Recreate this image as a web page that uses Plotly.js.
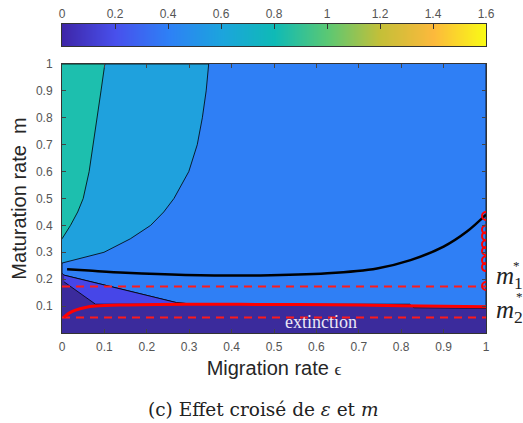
<!DOCTYPE html>
<html>
<head>
<meta charset="utf-8">
<script src="https://cdn.plot.ly/plotly-3.0.1.min.js"></script>
<style>html,body{margin:0;padding:0;background:#fff;}#chart{width:523px;height:423px;}</style>
</head>
<body>
<div id="chart"></div>
<script>
// ---- data ----
const xTicks = [0, 0.1, 0.2, 0.3, 0.4, 0.5, 0.6, 0.7, 0.8, 0.9, 1];
const xTickText = ['0', '0.1', '0.2', '0.3', '0.4', '0.5', '0.6', '0.7', '0.8', '0.9', '1'];
const yTicks = [0.1, 0.2, 0.3, 0.4, 0.5, 0.6, 0.7, 0.8, 0.9, 1];
const yTickText = ['0.1', '0.2', '0.3', '0.4', '0.5', '0.6', '0.7', '0.8', '0.9', '1'];
const cbTicks = [0, 0.2, 0.4, 0.6, 0.8, 1.0, 1.2, 1.4, 1.6];
const cbTickText = ['0', '0.2', '0.4', '0.6', '0.8', '1', '1.2', '1.4', '1.6'];

// region boundaries (epsilon, m)
const mainX = [0, 0, 0.005, 0.27, 0.31, 0.82, 0.83, 1, 1];
const mainY = [1, 0.222, 0.215, 0.113, 0.107, 0.107, 0.094, 0.092, 1];
const lightX = [0, 0.346, 0.340, 0.331, 0.319, 0.299, 0.264, 0.240, 0.209, 0.161, 0.099, 0.050, 0.012, 0];
const lightY = [1, 1, 0.9, 0.8, 0.7, 0.6, 0.5, 0.45, 0.4, 0.35, 0.3, 0.28, 0.265, 0.26];
const tealX = [0, 0.101, 0.092, 0.083, 0.074, 0.064, 0.050, 0.037, 0.020, 0.008, 0];
const tealY = [1, 1, 0.9, 0.8, 0.7, 0.6, 0.5, 0.45, 0.4, 0.37, 0.35];
const violetX = [0.005, 0.27, 0.31, 0.079, 0.005];
const violetY = [0.215, 0.113, 0.107, 0.107, 0.19];

// thick black contour
const contourX = [0.012, 0.063, 0.15, 0.291, 0.468, 0.626, 0.743, 0.822, 0.900, 0.955, 1.0];
const contourY = [0.237, 0.232, 0.224, 0.216, 0.214, 0.222, 0.240, 0.271, 0.321, 0.377, 0.44];

// red solid curve
const redX = [0.004, 0.016, 0.032, 0.055, 0.079, 0.142, 0.291, 0.5, 0.7, 0.85, 1.0];
const redY = [0.058, 0.073, 0.085, 0.095, 0.100, 0.104, 0.107, 0.106, 0.104, 0.100, 0.098];

// thresholds
const m1Star = 0.173;
const m2Star = 0.058;
const dashX = [0, 1];

// red circles at epsilon = 1
const circX = [1, 1, 1, 1, 1, 1, 1, 1];
const circY = [0.435, 0.385, 0.36, 0.33, 0.305, 0.27, 0.245, 0.175];

// ---- styles ----
const parula = [[0, '#3e26a8'], [0.125, '#4850ec'], [0.25, '#2e80f6'], [0.375, '#1ca4dd'],
  [0.5, '#0fbab6'], [0.625, '#5ac874'], [0.75, '#c4bf38'], [0.875, '#fcb93c'], [1, '#f9fb15']];
const cDark = '#3b2b9c', cViolet = '#4646e8', cMain = '#2f7ff5', cLight = '#1fa1dd', cTeal = '#1dbfae';
const tickFont = {family: 'Liberation Sans, Arial, sans-serif', size: 12, color: '#555'};
const serif = 'Liberation Serif, Times New Roman, serif';

function region(x, y, color) {
  return {x: x, y: y, type: 'scatter', mode: 'lines', fill: 'toself', fillcolor: color,
    line: {color: '#000', width: 0.8}, hoverinfo: 'skip', showlegend: false};
}

const traces = [
  region(mainX, mainY, cMain),
  region(lightX, lightY, cLight),
  region(tealX, tealY, cTeal),
  region(violetX, violetY, cViolet),
  {x: dashX, y: [m1Star, m1Star], type: 'scatter', mode: 'lines', line: {color: '#ff1a1a', width: 2, dash: '8px,6px'}, hoverinfo: 'skip', showlegend: false},
  {x: dashX, y: [m2Star, m2Star], type: 'scatter', mode: 'lines', line: {color: '#ff1a1a', width: 2, dash: '8px,6px'}, hoverinfo: 'skip', showlegend: false},
  {x: contourX, y: contourY, type: 'scatter', mode: 'lines', line: {color: '#000', width: 2.5, shape: 'spline'}, hoverinfo: 'skip', showlegend: false},
  {x: redX, y: redY, type: 'scatter', mode: 'lines', line: {color: '#ff0000', width: 3, shape: 'spline'}, hoverinfo: 'skip', showlegend: false},
  {x: circX, y: circY, type: 'scatter', mode: 'markers', marker: {symbol: 'circle-open', size: 8, color: '#ff0000', line: {width: 2, color: '#ff0000'}}, hoverinfo: 'skip', showlegend: false},
  {x: cbTicks, y: [0], z: [cbTicks], type: 'heatmap', xaxis: 'x2', yaxis: 'y2', zsmooth: 'best',
    colorscale: parula, zmin: 0, zmax: 1.6, showscale: false, hoverinfo: 'skip'}
];

const layout = {
  width: 523, height: 423,
  margin: {l: 62, r: 37, t: 24, b: 90, pad: 0},
  paper_bgcolor: '#fff', plot_bgcolor: cDark,
  showlegend: false,
  xaxis: {domain: [0, 1], range: [0, 1], tickvals: xTicks, ticktext: xTickText, ticks: 'inside', ticklen: 4,
    tickcolor: '#444', showline: true, linecolor: '#333', linewidth: 1, mirror: 'ticks', showgrid: false, zeroline: false,
    tickfont: tickFont, ticklabelstandoff: 3,
    title: {text: 'Migration rate <span style="font-family:Liberation Serif;font-size:17px">ϵ</span>', font: {family: 'Liberation Sans, Arial, sans-serif', size: 20, color: '#262626'}, standoff: 7}},
  yaxis: {domain: [0, 0.8706], range: [0, 1], tickvals: yTicks, ticktext: yTickText, ticks: 'inside', ticklen: 4,
    tickcolor: '#444', showline: true, linecolor: '#333', linewidth: 1, mirror: 'ticks', showgrid: false, zeroline: false,
    tickfont: tickFont, ticklabelstandoff: 6,
    title: {text: 'Maturation rate\u00a0 m', font: {family: 'Liberation Sans, Arial, sans-serif', size: 20, color: '#262626'}, standoff: 3}},
  xaxis2: {anchor: 'y2', domain: [0, 1], range: [0, 1.6], side: 'top', tickvals: cbTicks, ticktext: cbTickText,
    ticks: 'inside', ticklen: 5, tickcolor: '#333', showline: true, linecolor: '#333', mirror: true, showgrid: false, zeroline: false,
    tickfont: tickFont},
  yaxis2: {anchor: 'x2', domain: [0.9288, 1.0], range: [-0.5, 0.5], showticklabels: false, ticks: '', showline: true,
    linecolor: '#333', mirror: true, showgrid: false, zeroline: false},
  annotations: [
    {xref: 'x', yref: 'y', x: 0.612, y: 0.04, text: 'extinction', showarrow: false,
      font: {family: serif, size: 18, color: '#ece6f5'}},
    {xref: 'paper', yref: 'paper', x: 1.019, y: 0.178, xanchor: 'left', yanchor: 'middle', text: '<i>m</i><sub>1</sub>', showarrow: false,
      font: {family: serif, size: 25, color: '#222'}},
    {xref: 'paper', yref: 'paper', x: 1.071, y: 0.22, xanchor: 'center', yanchor: 'middle', text: '*', showarrow: false,
      font: {family: serif, size: 13, color: '#222'}},
    {xref: 'paper', yref: 'paper', x: 1.019, y: 0.068, xanchor: 'left', yanchor: 'middle', text: '<i>m</i><sub>2</sub>', showarrow: false,
      font: {family: serif, size: 25, color: '#222'}},
    {xref: 'paper', yref: 'paper', x: 1.078, y: 0.118, xanchor: 'center', yanchor: 'middle', text: '*', showarrow: false,
      font: {family: serif, size: 13, color: '#222'}},
    {xref: 'paper', yref: 'paper', x: 0.474, y: -0.249, xanchor: 'center', yanchor: 'middle',
      text: '(c) Effet croisé de <i>ε</i> et <i>m</i>', showarrow: false, font: {family: 'DejaVu Serif, serif', size: 18.5, color: '#222'}}
  ]
};

Plotly.newPlot('chart', traces, layout, {staticPlot: true, displayModeBar: false});
</script>
</body>
</html>
